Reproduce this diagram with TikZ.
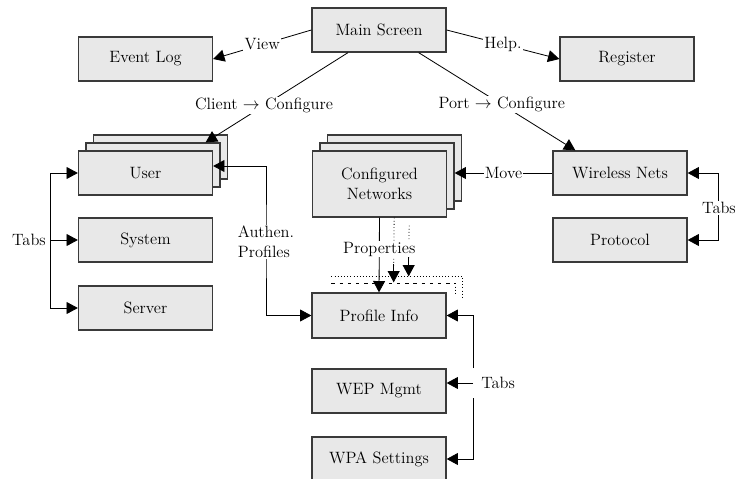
\documentclass[tikz,border=0pt]{standalone}
\usetikzlibrary{arrows.meta,positioning,calc}
\definecolor{boxgray}{HTML}{E8E8E8}
\definecolor{rim}{HTML}{3A3A3A}
\tikzset{
screen/.style={draw=rim,fill=boxgray,line width=1.1pt,minimum width=4.02cm,minimum height=1.32cm,align=center,font=\fontsize{14}{17}\selectfont,inner sep=2pt},
flow/.style={-{Triangle[length=3.4mm,width=3.6mm]},line width=.7pt,draw=black},
twoway/.style={flow,{Triangle[length=3.4mm,width=3.6mm]}-{Triangle[length=3.4mm,width=3.6mm]}},
ghost/.style={dotted,line width=.7pt},
edge label/.style={font=\fontsize{14}{17}\selectfont,fill=white,inner sep=1pt,align=center}}
\begin{document}
\begin{tikzpicture}[x=0.03cm,y=-0.03cm]
\useasboundingbox (0,0) rectangle (738,478);
% top row
\node[screen] (main) at (379,30) {Main Screen};
\node[screen] (evlog) at (145.5,59) {Event Log};
\node[screen] (reg) at (627,59) {Register};
% client side, stacked
\node[screen] (user3) at (160.5,157) {};
\node[screen] (user2) at (153,165) {};
\node[screen] (user) at (145.5,173) {User};
\node[screen] (system) at (145.5,240) {System};
\node[screen] (server) at (145.5,308) {Server};
% networks, stacked
\node[screen,minimum height=1.98cm] (cnet3) at (394.5,168) {};
\node[screen,minimum height=1.98cm] (cnet2) at (387,176) {};
\node[screen,minimum height=1.98cm] (cnet) at (379.5,184) {Configured\\Networks};
\node[screen] (wireless) at (620,173) {Wireless Nets};
\node[screen] (protocol) at (620,240) {Protocol};
% profile pages
\node[screen,minimum height=1.35cm] (pinfo) at (379,315.5) {Profile Info};
\node[screen] (wep) at (379,391) {WEP Mgmt};
\node[screen] (wpa) at (379,459) {WPA Settings};

\draw[flow] (main.west) -- node[edge label]{View} (evlog.east);
\draw[flow] (main.east) -- node[edge label]{Help.} (reg.west);
\draw[flow] ([xshift=-.93cm]main.south) -- node[edge label,pos=.59]{Client $\rightarrow$ Configure} ([xshift=-.45cm]user2.north east);
\draw[flow] ([xshift=-.84cm]main.south east) -- node[edge label,pos=.53]{Port $\rightarrow$ Configure} ([xshift=.69cm]wireless.north west);
\draw[flow] (wireless.west) -- node[edge label]{Move} (wireless.west -| cnet2.east);

% tabs on the left
\node[edge label] (tabsl) at (29,240) {Tabs};
\coordinate (tl) at (50,240);
\draw[flow] (tl) |- (user.west);
\draw[flow] (tl) -- (system.west);
\draw[flow] (tl) |- (server.west);

% authentication profiles
\coordinate (ap) at (266,242);
\draw[twoway] ([yshift=.21cm]user.east) -| (ap) |- (pinfo.west);
\node[edge label,align=left] (auth) at (ap) {Authen.\\Profiles};

% properties, one arrow per stacked network
\draw[ghost] ([shift={(0.6cm,0.48cm)}]pinfo.north west) -| ([shift={(0.48cm,-0.21cm)}]pinfo.north east);
\draw[line width=.7pt,dash pattern=on 3pt off 4pt] ([shift={(0.6cm,0.27cm)}]pinfo.north west) -- ([shift={(0.27cm,0.27cm)}]pinfo.north east);
\draw[ghost] ([shift={(0.27cm,0.27cm)}]pinfo.north east) -- ([shift={(0.27cm,-0.06cm)}]pinfo.north east);
\draw[ghost] ([xshift=.44cm]cnet.south) -- ([xshift=.44cm,yshift=.8cm]pinfo.north);
\draw[flow] ([xshift=.44cm,yshift=.85cm]pinfo.north) -- ([xshift=.44cm,yshift=.3cm]pinfo.north);
\draw[ghost] ([xshift=.89cm,yshift=-.24cm]cnet.south) -- ([xshift=.89cm,yshift=1cm]pinfo.north);
\draw[flow] ([xshift=.89cm,yshift=1.05cm]pinfo.north) -- ([xshift=.89cm,yshift=.48cm]pinfo.north);
\draw[flow] (cnet.south) -- node[edge label,pos=.42]{Properties} (pinfo.north);

% tabs on the right
\coordinate (rt) at (718,208);
\draw[flow] (rt) |- (wireless.east);
\draw[flow] (rt) |- (protocol.east);
\node[edge label] (tabsr) at (719,208) {Tabs};

% tabs below
\coordinate (bt) at (473,383);
\draw[flow] ([yshift=.45cm]bt) |- (pinfo.east);
\draw[flow] ([yshift=-.45cm]bt) |- (wpa.east);
\draw[flow] (bt) -- (bt -| wep.east);
\node[edge label,anchor=west] (tabsb) at (480,383) {Tabs};
\end{tikzpicture}
\end{document}
